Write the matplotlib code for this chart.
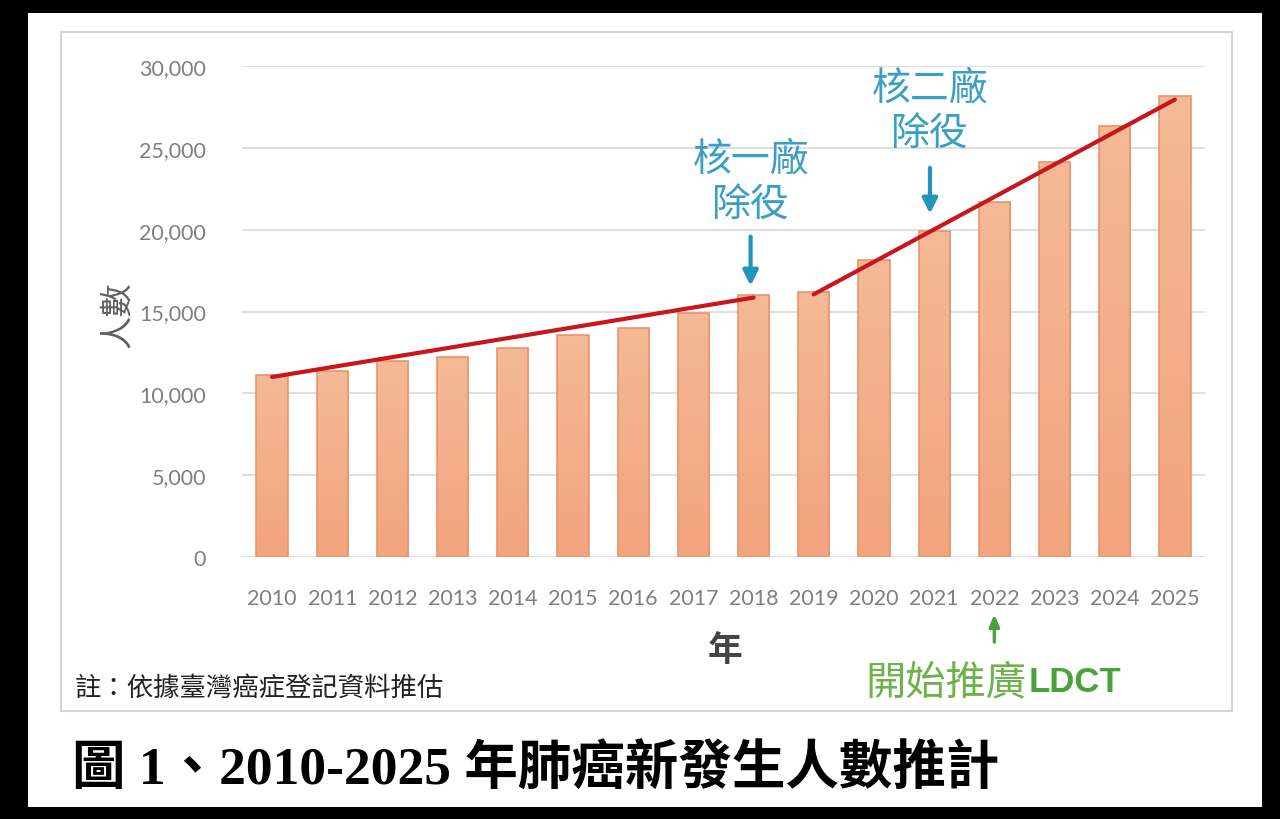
import numpy as np
import matplotlib.pyplot as plt
from matplotlib.patches import Rectangle
from matplotlib.ticker import FuncFormatter
from matplotlib.colors import LinearSegmentedColormap

plt.rcParams['font.family'] = ['Noto Sans CJK TC', 'DejaVu Sans']

# estimated new lung cancer cases per year
years = [2010, 2011, 2012, 2013, 2014, 2015, 2016, 2017,
         2018, 2019, 2020, 2021, 2022, 2023, 2024, 2025]
cases = [11100, 11350, 11950, 12200, 12800, 13550, 14000, 14900,
         16000, 16200, 18150, 19900, 21700, 24150, 26350, 28150]

# two trend segments: (index, value) at each end
trend_1 = [(0, 11000), (8, 15850)]
trend_2 = [(9, 16050), (15, 27950)]

y_ticks = [0, 5000, 10000, 15000, 20000, 25000, 30000]

fig = plt.figure(figsize=(12.8, 8.2), dpi=100, facecolor='black')

# white sheet and light chart frame
fig.patches.append(Rectangle((28 / 1280, 1 - 808 / 820), (1262 - 28) / 1280, (808 - 14) / 820,
                             transform=fig.transFigure, facecolor='white', edgecolor='none', zorder=-2))
fig.patches.append(Rectangle((61 / 1280, 1 - 712 / 820), (1232 - 61) / 1280, (712 - 33) / 820,
                             transform=fig.transFigure, facecolor='white', edgecolor='#d4d4d4',
                             linewidth=1.5, zorder=-1))

ax = fig.add_axes([242 / 1280, 1 - 558 / 820, (1205 - 242) / 1280, (558 - 67) / 820])
ax.set_facecolor('none')
ax.set_zorder(2)

x = np.arange(len(years))
bars = ax.bar(x, cases, width=0.52, color='#f3ae88', edgecolor='none', zorder=2)

# soft vertical gradient inside each bar
grad = np.linspace(0, 1, 256).reshape(-1, 1)
cmap = LinearSegmentedColormap.from_list('barfade', ['#f2a47e', '#f5b995'])
for b in bars:
    bx, by = b.get_x(), b.get_y()
    im = ax.imshow(grad, extent=[bx, bx + b.get_width(), by, by + b.get_height()],
                   origin='lower', cmap=cmap, aspect='auto', zorder=2.1)
    im.set_clip_path(b)
# thin darker outline on top of the gradient
ax.bar(x, cases, width=0.52, facecolor='none', edgecolor='#e8956b', linewidth=1.2, zorder=2.2)

for seg in (trend_1, trend_2):
    ax.plot([seg[0][0], seg[1][0]], [seg[0][1], seg[1][1]], color='#c8161d',
            linewidth=3, solid_capstyle='round', zorder=3)

ax.set_xlim(-0.5, len(years) - 0.5)
ax.set_ylim(0, 30000)
ax.set_yticks(y_ticks)
ax.yaxis.set_major_formatter(FuncFormatter(lambda v, p: f'{int(v):,}'))
ax.set_xticks(x)
ax.set_xticklabels([str(y) for y in years])
ax.grid(axis='y', color='#d9d9d9', linewidth=1.2, zorder=1)
ax.set_axisbelow(True)
for s in ax.spines.values():
    s.set_visible(False)
ax.tick_params(length=0, colors='#808080')
ax.tick_params(axis='y', pad=26)
ax.tick_params(axis='x', pad=22)
for lab in ax.get_xticklabels() + ax.get_yticklabels():
    lab.set_family(['Lato', 'DejaVu Sans'])
    lab.set_fontsize(15.5)
    lab.set_color('#7f7f7f')

# axis titles
fig.text(118 / 1280, 1 - 315 / 820, '人數', rotation=90, ha='center', va='center',
         fontsize=24, color='#5f5f5f')
fig.text(725 / 1280, 1 - 650 / 820, '年', ha='center', va='center',
         fontsize=25, color='#444444', fontweight='bold')

# annotations for the nuclear plant decommissioning
blue = '#3a9fc2'
ax.text(7.95, 22950, '核一廠\n除役', ha='center', va='center', fontsize=28,
        color=blue, linespacing=1.2, zorder=4)
ax.annotate('', xy=(7.95, 16400), xytext=(7.95, 19750),
            arrowprops=dict(arrowstyle='-|>,head_width=0.45,head_length=0.9',
                            color='#2295bf', linewidth=3), zorder=4)
ax.text(10.93, 27250, '核二廠\n除役', ha='center', va='center', fontsize=28,
        color=blue, linespacing=1.2, zorder=4)
ax.annotate('', xy=(10.93, 20800), xytext=(10.93, 23950),
            arrowprops=dict(arrowstyle='-|>,head_width=0.45,head_length=0.9',
                            color='#2295bf', linewidth=3), zorder=4)

# LDCT promotion marker under 2022
ax.annotate('', xy=(12.0, -3500), xytext=(12.0, -5200),
            arrowprops=dict(arrowstyle='-|>,head_width=0.3,head_length=0.7',
                            color='#4aa33a', linewidth=2.5, shrinkA=0, shrinkB=0),
            annotation_clip=False)
fig.text(865 / 1280, 1 - 683 / 820, '開始推廣', ha='left', va='center',
         fontsize=29, color='#6db34a')
fig.text(1029 / 1280, 1 - 683 / 820, 'LDCT', ha='left', va='center',
         fontsize=25, color='#4aa33a', fontweight='bold', family=['Liberation Sans', 'DejaVu Sans'])

# source note and figure caption
fig.text(75 / 1280, 1 - 688 / 820, '註：依據臺灣癌症登記資料推估', ha='left', va='center',
         fontsize=19, color='#222222')
fig.text(72 / 1280, 1 - 770 / 820, '圖 1、2010-2025 年肺癌新發生人數推計', ha='left', va='center',
         fontsize=38.5, fontweight='bold', color='black',
         family=['Liberation Serif', 'Noto Sans CJK TC'])

fig.savefig('out.png', dpi=100, facecolor=fig.get_facecolor())
